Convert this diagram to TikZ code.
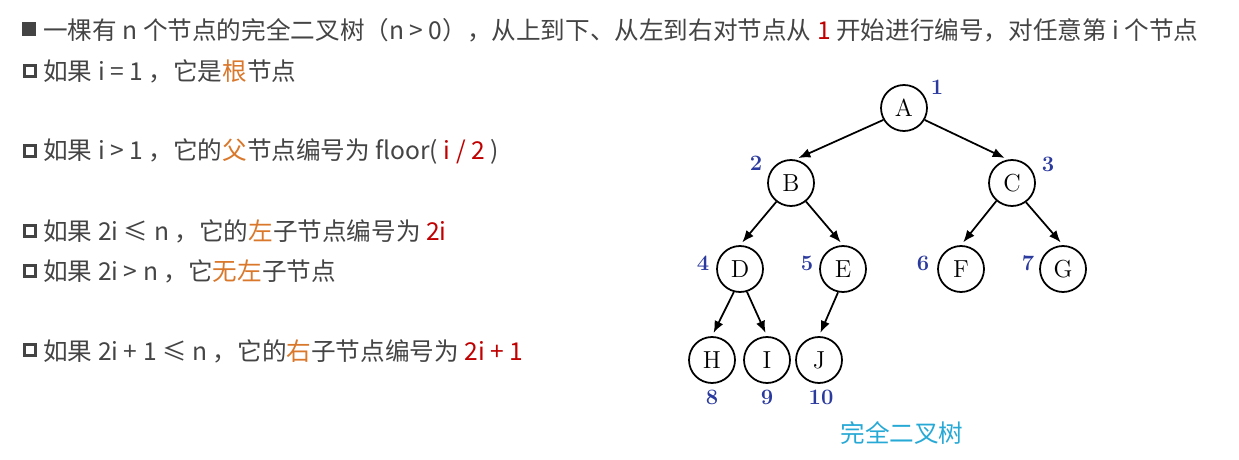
\documentclass[tikz,border=0pt]{standalone}
\usepackage{fontspec}
\newfontfamily\cjkfont{Noto Sans CJK SC}
\usetikzlibrary{arrows.meta}
\definecolor{txtgray}{HTML}{444444}
\definecolor{keyorange}{HTML}{D9772B}
\definecolor{keyred}{HTML}{C00000}
\definecolor{numblue}{HTML}{2B3A9E}
\definecolor{capcyan}{HTML}{27A9D6}
\tikzset{
  treenode/.style={circle, draw, line width=1pt, minimum size=0.92cm, font=\fontsize{14}{16}\selectfont},
  numlabel/.style={text=numblue, font=\bfseries\fontsize{12.5}{15}\selectfont},
  edgearrow/.style={line width=1pt, -{Latex[length=2.4mm,width=1.9mm]}, shorten >=2pt},
  textline/.style={anchor=west, text=txtgray, font=\cjkfont\fontsize{14}{16}\selectfont},
  hollowbox/.style={draw=txtgray, line width=2.2pt, minimum size=0.22cm},
  solidbox/.style={fill=txtgray, minimum size=0.27cm}
}
\begin{document}
\begin{tikzpicture}[scale=0.2]
        \tikzstyle{every node}+=[inner sep=0pt]
        \useasboundingbox (0,0) rectangle (123.9,-46);
        % rules on the left
        \node[solidbox] (b1) at (2.9,-2.9) {};
        \node[textline] (t1) at (4.3,-3.0) {一棵有 n 个节点的完全二叉树（n > 0），从上到下、从左到右对节点从 \textcolor{keyred}{1} 开始进行编号，对任意第 i 个节点};
        \node[hollowbox] (b2) at (3.0,-7.1) {};
        \node[textline] (t2) at (4.3,-7.1) {如果 i = 1 ，它是\textcolor{keyorange}{根}节点};
        \node[hollowbox] (b3) at (3.0,-15.1) {};
        \node[textline] (t3) at (4.3,-15.1) {如果 i > 1 ，它的\textcolor{keyorange}{父}节点编号为 floor( \textcolor{keyred}{i / 2} )};
        \node[hollowbox] (b4) at (3.0,-23.1) {};
        \node[textline] (t4) at (4.3,-23.1) {如果 2i ≤ n ，它的\textcolor{keyorange}{左}子节点编号为 \textcolor{keyred}{2i}};
        \node[hollowbox] (b5) at (3.0,-27.1) {};
        \node[textline] (t5) at (4.3,-27.1) {如果 2i > n ，它\textcolor{keyorange}{无左}子节点};
        \node[hollowbox] (b6) at (3.0,-35.0) {};
        \node[textline] (t6) at (4.3,-35.1) {如果 2i + 1 ≤ n ，它的\textcolor{keyorange}{右}子节点编号为 \textcolor{keyred}{2i + 1}};
        % the tree
        \node[treenode] (A) at (90.4,-10.8) {A};
        \node[treenode] (B) at (79.1,-18.3) {B};
        \node[treenode] (C) at (101.2,-18.3) {C};
        \node[treenode] (D) at (74.0,-26.9) {D};
        \node[treenode] (E) at (84.3,-26.9) {E};
        \node[treenode] (F) at (96.1,-26.9) {F};
        \node[treenode] (G) at (106.3,-26.9) {G};
        \node[treenode] (H) at (71.2,-36.0) {H};
        \node[treenode] (I) at (76.7,-36.0) {I};
        \node[treenode] (J) at (81.9,-36.0) {J};
        \draw[edgearrow] (A.210) -- (B.80);
        \draw[edgearrow] (A.330) -- (C.100);
        \draw[edgearrow] (B.232) -- (D.north);
        \draw[edgearrow] (B.309) -- (E.north);
        \draw[edgearrow] (C.229) -- (F.north);
        \draw[edgearrow] (C.306) -- (G.north);
        \draw[edgearrow] (D.255) -- (H.north);
        \draw[edgearrow] (D.287) -- (I.north);
        \draw[edgearrow] (E.258) -- (J.north);
        % numbers
        \node[numlabel] (n1) at (93.7,-8.7) {1};
        \node[numlabel] (n2) at (75.6,-16.3) {2};
        \node[numlabel] (n3) at (104.8,-16.4) {3};
        \node[numlabel] (n4) at (70.3,-26.3) {4};
        \node[numlabel] (n5) at (80.7,-26.3) {5};
        \node[numlabel] (n6) at (92.3,-26.3) {6};
        \node[numlabel] (n7) at (102.8,-26.3) {7};
        \node[numlabel] (n8) at (71.2,-39.7) {8};
        \node[numlabel] (n9) at (76.7,-39.7) {9};
        \node[numlabel] (n10) at (82.1,-39.7) {10};
        \node[text=capcyan, font=\cjkfont\fontsize{14}{16}\selectfont] (cap) at (90.2,-43.3) {完全二叉树};
\end{tikzpicture}
\end{document}
